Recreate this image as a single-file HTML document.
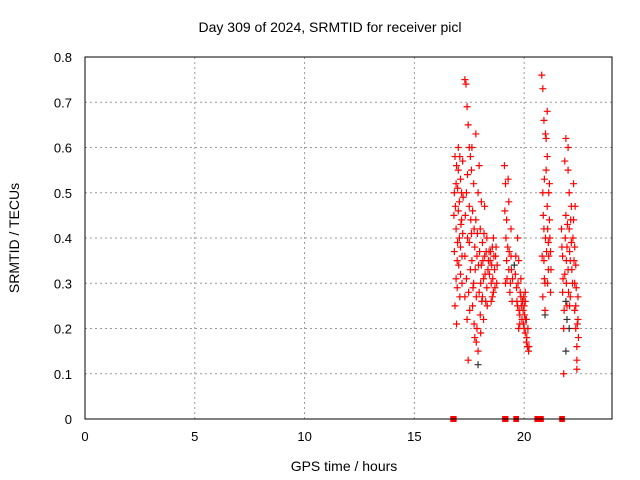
<!DOCTYPE html>
<html><head><meta charset="utf-8"><style>
body{margin:0;background:#fff;}
svg{display:block;font-family:"Liberation Sans",sans-serif;}
</style></head><body>
<svg id="chart" width="640" height="480">
<rect x="0" y="0" width="640" height="480" fill="#fff"/>
<text x="330" y="32" font-size="14" text-anchor="middle">Day 309 of 2024, SRMTID for receiver picl</text>
<text x="19" y="238" font-size="14" text-anchor="middle" transform="rotate(-90 19 238)">SRMTID / TECUs</text>
<text x="344" y="471" font-size="14" text-anchor="middle">GPS time / hours</text>
<g id="grid"></g>
<g id="marks"></g>
<rect x="85" y="57" width="527" height="362" fill="none" stroke="#000" stroke-width="1"/>
</svg>
<script>
const xTicks = [0, 5, 10, 15, 20];
const yTicks = [0, 0.1, 0.2, 0.3, 0.4, 0.5, 0.6, 0.7, 0.8];
const yTickLabels = ["0", "0.1", "0.2", "0.3", "0.4", "0.5", "0.6", "0.7", "0.8"];
const redPoints = [
[16.8,0.45],[16.85,0.58],[16.9,0.52],[16.9,0.42],[16.95,0.35],[16.95,0.29],[17.0,0.6],[17.0,0.55],[17.05,0.48],[17.05,0.40],[17.1,0.38],[17.1,0.32],[17.15,0.5],[17.15,0.44],[17.2,0.57],[16.85,0.25],[16.9,0.31],[17.0,0.46],[17.1,0.53],[17.2,0.41],
[17.3,0.75],[17.35,0.74],[17.3,0.36],[17.3,0.27],[17.4,0.69],[17.45,0.65],[17.4,0.22],[17.45,0.13],[17.5,0.6],[17.5,0.47],[17.55,0.33],[17.6,0.55],[17.6,0.41],[17.65,0.25],[17.7,0.52],[17.7,0.3],[17.75,0.18],[17.8,0.63],[17.8,0.44],[17.85,0.36],[17.9,0.15],[17.9,0.5],[17.95,0.28],[18.0,0.42],[18.0,0.23],[18.05,0.34],[18.1,0.39],[18.1,0.27],[18.15,0.31],[18.2,0.36],[18.2,0.47],[18.25,0.26],[18.3,0.4],[18.3,0.29],[18.35,0.33],[18.4,0.37],[17.55,0.58],[17.75,0.38],[17.85,0.2],[18.05,0.48],[17.65,0.46],[17.95,0.56],[17.5,0.39],[18.15,0.22],
[18.45,0.35],[18.5,0.3],[18.55,0.38],[18.6,0.28],[18.65,0.33],[18.7,0.36],[18.75,0.3],[18.5,0.26],[18.6,0.4],
[19.1,0.56],[19.15,0.52],[19.15,0.3],[19.2,0.44],[19.25,0.38],[19.3,0.48],[19.3,0.33],[19.35,0.28],[19.4,0.36],[19.45,0.26],[19.2,0.35],[19.4,0.42],
[19.6,0.32],[19.65,0.29],[19.7,0.4],[19.7,0.25],[19.75,0.35],[19.8,0.23],[19.85,0.27],[19.9,0.22],[19.75,0.2],[19.85,0.31],
[19.95,0.24],[20.0,0.2],[20.05,0.26],[20.1,0.17],[20.15,0.16],[20.2,0.15],[20.1,0.22],[20.0,0.25],[20.05,0.19],
[20.8,0.76],[20.85,0.73],[20.9,0.66],[20.85,0.5],[20.9,0.42],[20.9,0.35],[20.95,0.3],[20.95,0.24],[21.0,0.62],[21.0,0.55],[21.05,0.68],[21.05,0.47],[21.1,0.39],[21.1,0.33],[21.15,0.52],[21.15,0.44],[21.2,0.37],[21.2,0.28],[20.85,0.27],[21.05,0.58],
[21.7,0.42],[21.75,0.36],[21.75,0.28],[21.8,0.1],[21.8,0.2],[21.85,0.57],[21.85,0.32],[21.9,0.62],[21.9,0.45],[21.95,0.38],[21.95,0.25],[22.0,0.55],[22.0,0.33],[22.05,0.5],[22.05,0.42],[22.1,0.35],[22.1,0.27],[22.15,0.47],[22.15,0.39],[22.2,0.3],
[22.25,0.52],[22.25,0.44],[22.3,0.38],[22.3,0.3],[22.35,0.25],[22.35,0.2],[22.4,0.16],[22.4,0.11],[22.45,0.22],[22.45,0.27]
];
const redPointsExtra = [
[16.82,0.5],[16.87,0.47],[16.92,0.56],[16.97,0.39],[17.02,0.34],[17.07,0.27],[17.12,0.43],[17.17,0.36],[17.22,0.49],[16.82,0.37],[16.92,0.21],[17.07,0.58],[17.17,0.3],[16.97,0.51],
[17.32,0.45],[17.37,0.31],[17.42,0.4],[17.47,0.28],[17.52,0.24],[17.57,0.44],[17.62,0.35],[17.67,0.29],[17.72,0.42],[17.77,0.33],[17.82,0.27],[17.87,0.41],[17.92,0.34],[17.97,0.37],[18.02,0.3],[18.07,0.26],[18.12,0.35],[18.17,0.41],[18.22,0.32],[18.27,0.37],[18.32,0.25],[18.37,0.35],[17.42,0.54],[17.62,0.6],[17.72,0.21],[17.82,0.17],[18.02,0.19],[17.37,0.5],
[18.42,0.32],[18.47,0.37],[18.52,0.34],[18.57,0.31],[18.62,0.36],[18.67,0.29],[18.72,0.38],[18.77,0.34],[18.55,0.27],
[19.12,0.46],[19.17,0.4],[19.22,0.31],[19.27,0.53],[19.32,0.37],[19.37,0.3],[19.42,0.33],[19.47,0.31],
[19.62,0.36],[19.67,0.26],[19.72,0.3],[19.77,0.24],[19.82,0.28],[19.87,0.25],[19.92,0.26],[19.8,0.21],
[19.97,0.21],[20.02,0.23],[20.07,0.22],[20.12,0.18],[20.17,0.2],[20.22,0.16],[20.05,0.28],[19.98,0.27],
[20.82,0.36],[20.87,0.45],[20.92,0.53],[20.97,0.4],[21.02,0.37],[21.07,0.42],[21.12,0.36],[21.17,0.4],[21.22,0.33],[20.92,0.31],[21.07,0.3],[21.12,0.5],[20.97,0.63],
[21.72,0.38],[21.77,0.31],[21.82,0.24],[21.87,0.4],[21.92,0.35],[21.97,0.43],[22.02,0.28],[22.07,0.37],[22.12,0.44],[22.17,0.33],[22.22,0.4],[22.0,0.6],[21.92,0.3],[22.07,0.25],
[22.27,0.35],[22.32,0.47],[22.37,0.29],[22.42,0.21],[22.47,0.18],[22.3,0.24],[22.4,0.13],[22.35,0.34]
];
const zeroHours = [16.75,16.78,16.81,19.11,19.14,19.17,19.62,19.65,20.58,20.61,20.75,20.78,21.71,21.74];
const blackPoints = [[21.9,0.26],[21.95,0.22],[22.05,0.2],[19.55,0.34],[17.9,0.12],[20.95,0.23],[21.9,0.15]];

const L=85,R=612,T=57,B=419,XMAX=24,YMAX=0.8;
const xs=h=>L+(R-L)*h/XMAX;
const ys=v=>B-(B-T)*v/YMAX;
const NS="http://www.w3.org/2000/svg";
const grid=document.getElementById('grid');
const marks=document.getElementById('marks');
function mk(tag,attrs,parent){const e=document.createElementNS(NS,tag);for(const k in attrs)e.setAttribute(k,attrs[k]);parent.appendChild(e);return e;}
xTicks.forEach(t=>{
  const x=xs(t);
  if(t>0){const g=mk('line',{x1:x,y1:T,x2:x,y2:B,stroke:'#999','stroke-dasharray':'2,3'},grid);
  
  }
  const lbl=mk('text',{x:x,y:B+22,'font-size':13,'text-anchor':'middle'},grid);
  lbl.textContent=String(t);
  
  
});
yTicks.forEach((t,i)=>{
  const y=ys(t);
  if(t>0&&t<YMAX){const g=mk('line',{x1:L,y1:y,x2:R,y2:y,stroke:'#999','stroke-dasharray':'2,3'},grid);
  
  }
  const lbl=mk('text',{x:72,y:y+5,'font-size':13,'text-anchor':'end'},grid);
  lbl.textContent=yTickLabels[i];
  
  
});
function plus(p,color,name){
  const x=xs(p[0]),y=ys(p[1]);
  const g=mk('path',{d:`M${x-3.5} ${y}H${x+3.5}M${x} ${y-3.5}V${y+3.5}`,stroke:color,'stroke-width':1.2,fill:'none'},marks);
  
  
}
blackPoints.forEach(p=>plus(p,'#333','black-point'));
redPoints.forEach(p=>plus(p,'#ff0000','red-point'));
redPointsExtra.forEach(p=>plus(p,'#ff0000','red-point'));
zeroHours.forEach(h=>{
  const x=xs(h),y=ys(0);
  const r=mk('rect',{x:x-2.5,y:y-3,width:5,height:6,fill:'#ff0000'},marks);
  
  
});
</script>
</body></html>
